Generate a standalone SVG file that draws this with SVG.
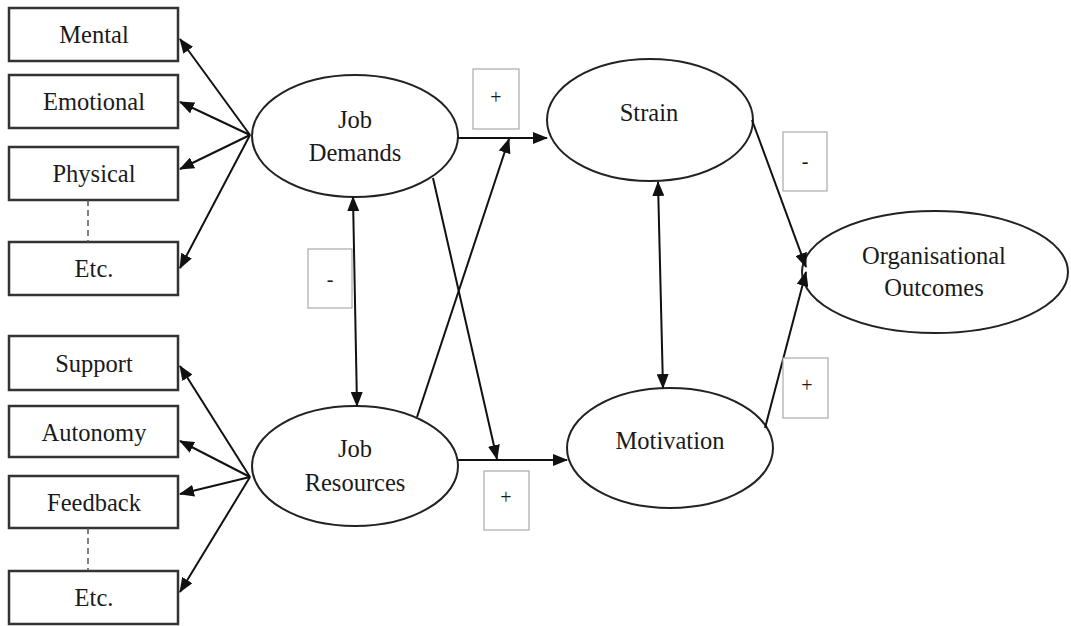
<svg xmlns="http://www.w3.org/2000/svg" width="1071" height="626" viewBox="0 0 1071 626">
  <style>
    .box { fill: #ffffff; stroke: #333333; stroke-width: 2.5; }
    .ell { fill: #ffffff; stroke: #222222; stroke-width: 2; }
    .lbl { fill: #ffffff; stroke: #aaaaaa; stroke-width: 1.2; }
    .txt { font-family: "Liberation Serif", "Times New Roman", serif; font-size: 24.5px; fill: #1a1a1a; text-anchor: middle; }
    .sign { font-family: "Liberation Serif", "Times New Roman", serif; font-size: 20px; fill: #1a1a1a; text-anchor: middle; }
    .edge { fill: none; stroke: #111111; stroke-width: 2; }
    .dash { fill: none; stroke: #555555; stroke-width: 1.5; stroke-dasharray: 6 4; }
  </style>
  <defs>
    <marker id="arrow" markerUnits="userSpaceOnUse" markerWidth="16" markerHeight="12" refX="14" refY="6" orient="auto-start-reverse">
      <path d="M0,0 L15,6 L0,12 Z" fill="#111111"/>
    </marker>
  </defs>
  <rect width="1071" height="626" fill="#ffffff"/>

  <!-- Job demand indicators -->
  <g id="mental"><rect class="box" x="9" y="8" width="169" height="53"/><text class="txt" x="94" y="43">Mental</text></g>
  <g id="emotional"><rect class="box" x="9" y="75" width="169" height="53"/><text class="txt" x="94" y="110">Emotional</text></g>
  <g id="physical"><rect class="box" x="9" y="147" width="169" height="53"/><text class="txt" x="94" y="182">Physical</text></g>
  <g id="etc1"><rect class="box" x="9" y="242" width="169" height="53"/><text class="txt" x="94" y="277">Etc.</text></g>

  <!-- Job resource indicators -->
  <g id="support"><rect class="box" x="9" y="336" width="169" height="54"/><text class="txt" x="94" y="372">Support</text></g>
  <g id="autonomy"><rect class="box" x="9" y="406" width="169" height="51"/><text class="txt" x="94" y="441">Autonomy</text></g>
  <g id="feedback"><rect class="box" x="9" y="476" width="169" height="52"/><text class="txt" x="94" y="511">Feedback</text></g>
  <g id="etc2"><rect class="box" x="9" y="571" width="169" height="53"/><text class="txt" x="94" y="606">Etc.</text></g>

  <!-- Latent constructs -->
  <g id="job-demands"><ellipse class="ell" cx="355" cy="136" rx="103" ry="61"/><text class="txt" x="355" y="128">Job</text><text class="txt" x="355" y="161">Demands</text></g>
  <g id="job-resources"><ellipse class="ell" cx="355" cy="466" rx="103" ry="60"/><text class="txt" x="355" y="457">Job</text><text class="txt" x="355" y="491">Resources</text></g>
  <g id="strain"><ellipse class="ell" cx="650" cy="120" rx="103" ry="61"/><text class="txt" x="649" y="121">Strain</text></g>
  <g id="motivation"><ellipse class="ell" cx="670" cy="448" rx="103" ry="60"/><text class="txt" x="670" y="449">Motivation</text></g>
  <g id="outcomes"><ellipse class="ell" cx="935" cy="272" rx="133" ry="61"/><text class="txt" x="934" y="264">Organisational</text><text class="txt" x="934" y="296">Outcomes</text></g>

  <!-- Connectors -->
  <g id="connectors">
    <line class="dash" x1="88" y1="200" x2="88" y2="242"/>
    <line class="dash" x1="88" y1="528" x2="88" y2="571"/>

    <line class="edge" x1="250" y1="135" x2="180" y2="39" marker-end="url(#arrow)"/>
    <line class="edge" x1="250" y1="135" x2="180" y2="102" marker-end="url(#arrow)"/>
    <line class="edge" x1="250" y1="135" x2="180" y2="169" marker-end="url(#arrow)"/>
    <line class="edge" x1="250" y1="135" x2="180" y2="268" marker-end="url(#arrow)"/>

    <line class="edge" x1="250" y1="477" x2="180" y2="366" marker-end="url(#arrow)"/>
    <line class="edge" x1="250" y1="477" x2="180" y2="441" marker-end="url(#arrow)"/>
    <line class="edge" x1="250" y1="477" x2="180" y2="494" marker-end="url(#arrow)"/>
    <line class="edge" x1="250" y1="477" x2="180" y2="592" marker-end="url(#arrow)"/>

    <line class="edge" x1="353" y1="197" x2="357" y2="406" marker-start="url(#arrow)" marker-end="url(#arrow)"/>
    <line class="edge" x1="458" y1="138" x2="547" y2="138" marker-end="url(#arrow)"/>
    <line class="edge" x1="458" y1="460" x2="567" y2="460" marker-end="url(#arrow)"/>
    <line class="edge" x1="417" y1="417" x2="509" y2="139" marker-end="url(#arrow)"/>
    <line class="edge" x1="433" y1="178" x2="497" y2="459" marker-end="url(#arrow)"/>
    <line class="edge" x1="658" y1="182" x2="663" y2="388" marker-start="url(#arrow)" marker-end="url(#arrow)"/>
    <line class="edge" x1="752" y1="120" x2="806" y2="267" marker-end="url(#arrow)"/>
    <line class="edge" x1="765" y1="428" x2="806" y2="272" marker-end="url(#arrow)"/>

    <!-- Sign labels -->
    <rect class="lbl" x="308" y="249" width="44" height="59"/><text class="sign" x="330" y="286">-</text>
    <rect class="lbl" x="473" y="69" width="46" height="60"/><text class="sign" x="496" y="104">+</text>
    <rect class="lbl" x="484" y="471" width="45" height="59"/><text class="sign" x="506" y="504">+</text>
    <rect class="lbl" x="783" y="132" width="44" height="59"/><text class="sign" x="805" y="168">-</text>
    <rect class="lbl" x="783" y="358" width="45" height="60"/><text class="sign" x="807" y="392">+</text>
  </g>
</svg>
